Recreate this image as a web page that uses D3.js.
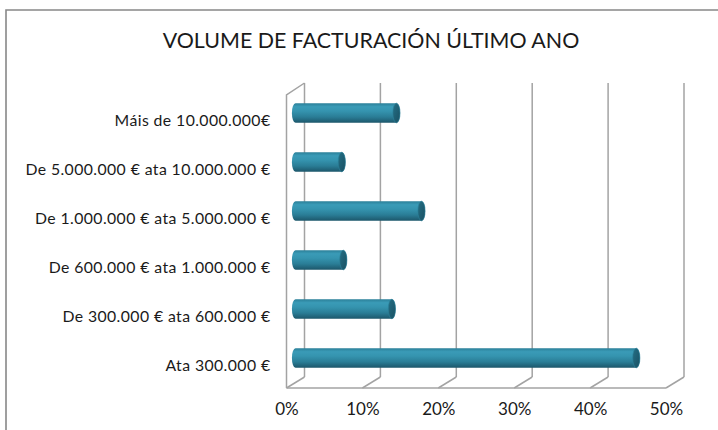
<!DOCTYPE html>
<html><head><meta charset="utf-8">
<script src="https://cdn.jsdelivr.net/npm/d3@7"></script>
<style>
html,body{margin:0;padding:0;background:#fff;}
svg{display:block;}
text{font-family:Lato,"Open Sans",sans-serif;fill:#1a1a1a;}
</style></head>
<body>
<svg id="chart" width="718" height="430"></svg>
<script>
// ---- data ----
const title = "VOLUME DE FACTURACIÓN ÚLTIMO ANO";
const categories = [
  "Máis de 10.000.000€",
  "De 5.000.000 € ata 10.000.000 €",
  "De 1.000.000 € ata 5.000.000 €",
  "De 600.000 € ata 1.000.000 €",
  "De 300.000 € ata 600.000 €",
  "Ata 300.000 €"
];
const values = [13.3, 6.1, 16.6, 6.3, 12.7, 44.9];
const xTicks = [0, 10, 20, 30, 40, 50];
const tickLabels = ["0%", "10%", "20%", "30%", "40%", "50%"];

// ---- layout ----
const svg = d3.select("#chart");
const W = 718, H = 430;
const depthX = 18, depthY = 11;
const backLeft = 304.5, backRight = 684, backTop = 83, backBottom = 377;

const xBack = d3.scaleLinear().domain([0, 50]).range([backLeft, backRight]);
const xFront = d3.scaleLinear().domain([0, 50]).range([backLeft - depthX, backRight - depthX]);
const xMid = d3.scaleLinear().domain([0, 50]).range([backLeft - depthX / 2, backRight - depthX / 2]);

const yBack = d3.scaleBand().domain(categories).range([backTop, backBottom]).paddingInner(0.6).paddingOuter(0.3);
const yFront = d3.scaleBand().domain(categories).range([backTop + depthY, backBottom + depthY]);

const gridColor = "#a3a3a3";

// outer border (only left/top visible)
svg.append("path")
  .attr("d", `M6,${H + 2} L6,10 L${W + 2},10`)
  .attr("fill", "none").attr("stroke", "#888").attr("stroke-width", 1.6);

// title
const tt = svg.append("text")
  .attr("x", 371).attr("y", 48)
  .attr("text-anchor", "middle")
  .style("font-size", "21px")
  .text(title);
{
  const w = tt.node().getComputedTextLength();
  tt.style("font-size", (21 * 417 / w).toFixed(2) + "px");
}

// walls
const walls = svg.append("g").attr("fill", "none").attr("stroke", gridColor).attr("stroke-width", 1.5);
walls.selectAll("line.grid").data(xTicks).join("line").attr("class", "grid")
  .attr("x1", d => xBack(d)).attr("x2", d => xBack(d))
  .attr("y1", backTop).attr("y2", backBottom);
walls.selectAll("line.floor").data(xTicks).join("line").attr("class", "floor")
  .attr("x1", d => xBack(d)).attr("y1", backBottom)
  .attr("x2", d => xFront(d)).attr("y2", backBottom + depthY);
walls.append("line")
  .attr("x1", xFront(0)).attr("x2", xFront(50))
  .attr("y1", backBottom + depthY).attr("y2", backBottom + depthY);
walls.append("path")
  .attr("d", `M${xFront(0)},${backBottom + depthY} L${xFront(0)},${backTop + depthY + 1} L${xBack(0)},${backTop}`);

// bar gradients
const defs = svg.append("defs");
const gBody = defs.append("linearGradient").attr("id", "cyl").attr("x1", 0).attr("y1", 0).attr("x2", 0).attr("y2", 1);
[[0, "#2b7f98"], [0.18, "#3a9bb7"], [0.4, "#3594af"], [0.7, "#2a7d96"], [1, "#1c566a"]]
  .forEach(([o, c]) => gBody.append("stop").attr("offset", o).attr("stop-color", c));
const gCap = defs.append("linearGradient").attr("id", "cap").attr("x1", 0).attr("y1", 0).attr("x2", 1).attr("y2", 1);
[[0, "#246f85"], [1, "#1a5062"]]
  .forEach(([o, c]) => gCap.append("stop").attr("offset", o).attr("stop-color", c));

// bars (cylinders at mid depth)
const rx = 3.6;
const bars = svg.append("g");
categories.forEach((c, i) => {
  const v = values[i];
  const y0 = yBack(c) + depthY / 2;
  const h = yBack.bandwidth();
  const y1 = y0 + h;
  const ry = h / 2;
  const x0 = xMid(0), x1 = xMid(v);
  bars.append("path")
    .attr("d", `M${x0},${y0} L${x1},${y0} A${rx},${ry} 0 0 1 ${x1},${y1} L${x0},${y1} A${rx},${ry} 0 0 1 ${x0},${y0} Z`)
    .attr("fill", "url(#cyl)");
  bars.append("ellipse")
    .attr("cx", x1).attr("cy", y0 + ry).attr("rx", rx).attr("ry", ry)
    .attr("fill", "url(#cap)").attr("stroke", "#2c819a").attr("stroke-width", 0.6);
});

// category axis (front plane)
const yAxis = svg.append("g")
  .attr("transform", `translate(${xFront(0)},2)`)
  .call(d3.axisLeft(yFront).tickSize(0).tickPadding(16));
yAxis.select(".domain").remove();
const ylabels = yAxis.selectAll("text")
  .style("font-size", "15.8px").style("font-family", "Lato, 'Open Sans', sans-serif").attr("fill", "#1a1a1a");
{
  const n = ylabels.nodes()[1];
  const w = n.getComputedTextLength();
  const ls = Math.max(0, (245 - w) / (categories[1].length));
  ylabels.style("letter-spacing", ls.toFixed(2) + "px");
}

// value axis
const xAxis = svg.append("g")
  .attr("transform", `translate(0,${backBottom + depthY + 9})`)
  .call(d3.axisBottom(xFront).tickValues(xTicks).tickSize(0).tickPadding(6)
    .tickFormat((d, i) => tickLabels[i]));
xAxis.select(".domain").remove();
xAxis.selectAll("text").style("font-size", "17px").style("font-family", "Lato, 'Open Sans', sans-serif").attr("fill", "#1a1a1a");
</script>
</body></html>
